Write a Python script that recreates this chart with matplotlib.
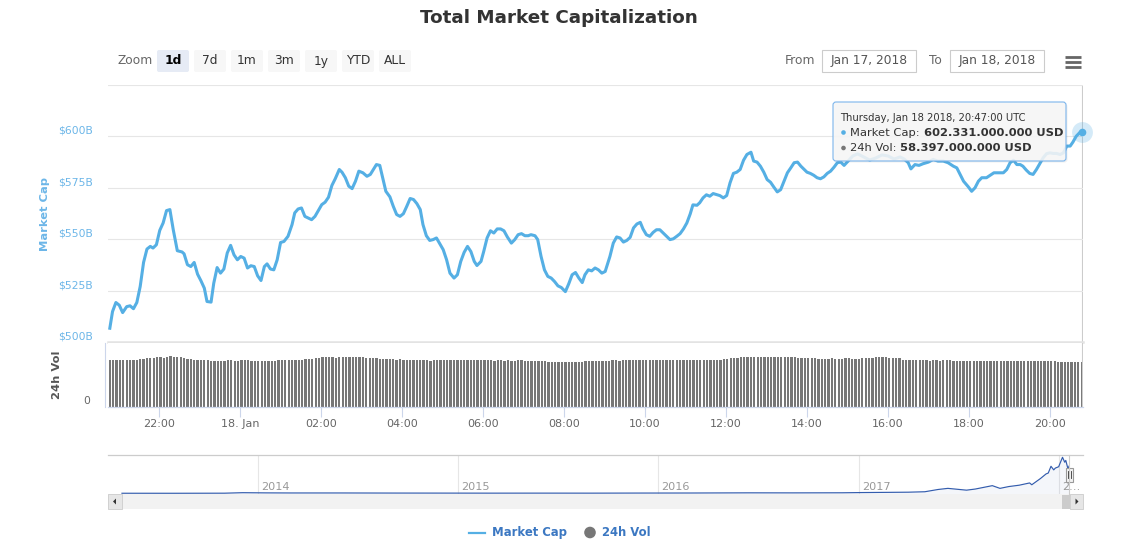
import numpy as np
import pandas as pd
import matplotlib
matplotlib.use('Agg')
import matplotlib.pyplot as plt
import matplotlib.dates as mdates
import matplotlib.transforms as mtransforms
from matplotlib.patches import Rectangle, FancyBboxPatch, Polygon, Circle

plt.rcParams['font.family'] = ['DejaVu Sans']

# ---------------- data ----------------
title = 'Total Market Capitalization'
start_time = '2018-01-17 20:47'

# market cap (billions USD), minutes after start_time
mc_minutes = [0, 4, 9, 14, 19, 25, 30, 35, 40, 45, 50, 55, 60, 64, 69, 74, 79, 84, 89, 94,
              100, 107, 110, 115, 120, 125, 130, 135, 140, 144, 150, 154, 159, 164, 169, 174, 179, 184, 189, 194,
              199, 204, 209, 214, 219, 224, 229, 233, 238, 243, 248, 253, 258, 264, 270, 274, 279, 284, 289, 294,
              299, 304, 309, 314, 319, 324, 329, 334, 340, 344, 349, 354, 359, 364, 369,
              375, 381, 386, 391, 395, 400, 405, 409, 415, 420, 425, 430, 435, 440, 445, 450, 455, 460, 464, 469,
              474, 479, 484, 489, 494, 499, 504, 510, 515, 520, 525, 530, 535, 540, 544, 550, 554, 559, 564, 569,
              574, 579, 584, 589, 595, 600, 605, 610, 615, 620, 624, 630, 634, 639, 644, 649, 654, 659, 664, 669,
              675, 680, 685, 690, 695, 700, 704, 709, 714, 719, 724, 729, 734,
              741, 746, 751, 756, 761, 766, 771, 776, 781, 786, 790, 795, 800, 805, 810, 815, 820, 825, 830, 835,
              840, 845, 850, 855, 860, 864, 870, 874, 879, 884, 889, 894, 899, 904, 909, 914, 919, 924, 929, 934,
              939, 944, 950, 954, 959, 964, 969, 974, 979, 984, 989, 994, 999, 1004, 1009, 1014, 1019, 1024, 1029, 1033,
              1038, 1043, 1048, 1053, 1058, 1063, 1068, 1073, 1078, 1083, 1088,
              1094, 1101, 1108, 1117, 1126, 1135, 1144, 1153, 1162, 1171, 1177,
              1183, 1187, 1193, 1199, 1205, 1213, 1220, 1227, 1235, 1242, 1250, 1255, 1260, 1265, 1272, 1277, 1282, 1287, 1292, 1299,
              1304, 1310, 1316, 1324, 1329, 1334, 1339, 1344, 1349, 1353, 1358, 1363, 1368, 1373, 1378, 1383, 1388, 1393, 1398, 1403,
              1408, 1413, 1418, 1423, 1427, 1432, 1437, 1440]
mc_values = [506.7, 514.8, 519.2, 517.9, 514.3, 517.2, 517.6, 516.2, 519.2, 527.0, 538.7, 545.2, 546.5, 545.7, 547.3, 554.3, 557.9, 563.9, 564.4, 554.6,
             544.4, 543.8, 542.9, 537.6, 536.7, 538.7, 533.0, 529.8, 526.2, 519.7, 519.4, 528.6, 536.2, 533.5, 535.5, 543.3, 547.0, 542.4, 540.0, 541.6,
             540.8, 536.0, 537.1, 536.7, 532.2, 529.9, 536.7, 538.0, 535.5, 535.1, 540.0, 548.4, 548.9, 551.4, 557.1, 562.8, 564.7, 565.2, 561.1, 560.3,
             559.5, 561.1, 564.0, 566.8, 568.0, 570.4, 576.1, 579.4, 583.9, 582.6, 579.9, 575.8, 574.6, 578.2, 583.1,
             582.3, 580.6, 581.5, 584.2, 586.3, 585.9, 579.0, 573.3, 570.6, 566.0, 562.0, 561.1, 562.4, 566.0, 569.8, 569.3, 567.3, 564.4, 557.1, 551.7,
             549.4, 549.8, 550.6, 547.8, 544.9, 540.0, 533.5, 531.1, 532.7, 539.2, 543.6, 546.5, 544.0, 539.2, 537.2, 539.2, 544.0, 550.6, 554.1, 553.0,
             555.0, 555.0, 554.1, 551.1, 548.1, 549.8, 552.2, 552.7, 551.7, 551.7, 552.2, 551.7, 549.8, 541.6, 535.1, 531.9, 531.1, 529.4, 527.3, 526.5,
             524.5, 528.3, 532.7, 533.8, 531.1, 528.9, 532.7, 535.1, 534.6, 536.0, 535.1, 533.5, 534.3,
             541.6, 548.1, 551.1, 550.6, 548.6, 549.4, 550.9, 555.5, 557.4, 558.2, 555.0, 552.2, 551.4, 553.3, 554.6, 554.6, 553.0, 551.4, 549.8, 550.2,
             551.4, 552.7, 555.0, 557.9, 562.3, 566.7, 566.5, 567.7, 570.1, 571.6, 570.9, 572.2, 571.7, 571.2, 570.1, 571.2, 577.4, 582.0, 582.6, 583.9,
             588.4, 591.2, 592.3, 588.0, 587.5, 585.5, 582.6, 579.0, 577.7, 575.3, 573.0, 574.1, 578.2, 582.3, 584.7, 587.2, 587.5, 585.5, 583.9, 582.6,
             582.0, 581.1, 579.9, 579.4, 580.3, 582.0, 583.1, 585.0, 587.2, 587.5, 585.9,
             588.0, 590.5, 591.5, 590.0, 588.5, 589.5, 591.0, 590.5, 589.0, 590.0, 589.0,
             587.2, 584.2, 586.3, 585.9, 586.7, 587.5, 588.8, 588.0, 588.0, 587.2, 585.5, 584.7, 581.5, 578.2, 575.5, 573.3, 575.0, 578.2, 579.9, 579.9,
             581.0, 582.3, 582.3, 582.3, 583.9, 587.2, 588.4, 586.3, 586.3, 585.5, 583.6, 582.0, 581.5, 583.9, 586.8, 589.6, 591.6, 592.0, 591.7, 591.7,
             591.2, 592.0, 595.3, 595.3, 597.2, 600.1, 601.8, 602.331]

# 24h volume (billions USD), one bar every 5 minutes from start_time
vol_step_minutes = 5
vol_values = [
    61.0, 60.6, 61.0, 61.0, 61.0, 61.0, 60.8, 61.0, 61.4, 61.8, 62.5, 63.0,
    63.6, 63.6, 64.2, 64.2, 63.8, 64.6, 65.5, 64.6, 64.6, 64.2, 63.0, 62.5,
    62.0, 61.4, 61.0, 60.6, 60.4, 60.4, 60.0, 60.0, 60.0, 59.8, 59.8, 60.4,
    60.4, 60.0, 60.0, 60.4, 60.4, 60.4, 60.0, 60.0, 60.0, 60.0, 59.8, 59.8,
    59.8, 60.0, 60.4, 60.8, 61.0, 61.0, 61.0, 60.6, 61.0, 61.4, 62.0, 62.5,
    62.5, 63.0, 63.6, 64.2, 64.2, 64.6, 64.2, 63.6, 64.2, 64.6, 64.6, 64.2,
    64.2, 64.6, 64.6, 64.2, 63.6, 63.6, 63.0, 63.0, 62.5, 62.5, 62.5, 62.0,
    61.8, 61.4, 61.8, 61.4, 61.0, 61.0, 61.4, 60.8, 61.0, 60.4, 60.4, 60.0,
    60.4, 60.4, 60.4, 60.8, 60.8, 60.4, 60.4, 60.4, 60.8, 60.8, 60.4, 60.4,
    60.4, 60.8, 60.8, 60.8, 60.4, 60.4, 60.0, 60.4, 60.4, 60.0, 60.4, 60.0,
    60.0, 60.4, 60.4, 60.0, 60.0, 59.8, 59.8, 60.0, 59.6, 59.4, 59.0, 58.8,
    58.6, 58.4, 58.6, 58.4, 58.6, 58.8, 59.0, 59.0, 59.0, 59.4, 59.4, 59.6,
    59.6, 59.6, 59.8, 60.0, 60.0, 60.4, 60.4, 60.0, 60.4, 60.4, 60.6, 60.4,
    60.4, 60.8, 60.6, 60.4, 60.4, 60.8, 60.8, 60.8, 60.4, 60.4, 60.8, 60.8,
    60.8, 61.0, 60.8, 60.8, 60.8, 61.0, 60.8, 60.8, 61.0, 60.8, 60.8, 61.0,
    61.0, 61.4, 61.8, 62.5, 63.0, 63.6, 63.6, 64.2, 64.2, 64.6, 64.2, 64.6,
    64.6, 64.2, 64.2, 64.6, 64.6, 64.2, 64.2, 64.2, 64.6, 64.6, 64.2, 64.2,
    63.6, 63.6, 63.6, 63.0, 63.0, 63.0, 62.5, 62.5, 62.5, 62.5, 63.0, 62.5,
    62.5, 62.5, 63.0, 63.0, 62.5, 62.5, 62.5, 63.0, 63.6, 63.6, 63.6, 64.2,
    64.2, 64.2, 64.2, 63.6, 63.6, 63.6, 63.6, 61.0, 60.6, 60.4, 60.4, 60.4,
    60.4, 60.4, 60.4, 60.0, 60.4, 60.4, 60.0, 60.4, 60.4, 60.4, 60.0, 60.0,
    59.6, 59.4, 59.4, 59.4, 59.6, 59.6, 60.0, 60.0, 60.0, 60.0, 60.0, 60.0,
    60.0, 60.0, 60.0, 60.0, 60.0, 60.0, 60.0, 59.8, 60.0, 60.0, 59.8, 59.8,
    59.6, 59.8, 59.4, 59.4, 59.4, 59.0, 59.0, 58.8, 58.6, 58.8, 58.4, 58.6,
    58.397]

# navigator: full history of market cap (billions USD)
nav_dates = ['2013-04-28', '2013-08-01', '2013-11-01', '2013-12-04', '2014-01-15', '2014-03-01', '2014-06-01',
             '2014-09-01', '2014-12-01', '2015-03-01', '2015-06-01', '2015-09-01', '2015-12-01', '2016-03-01',
             '2016-06-15', '2016-09-01', '2016-12-01', '2017-01-05', '2017-03-01', '2017-04-01', '2017-05-01',
             '2017-05-25', '2017-06-12', '2017-07-16', '2017-08-01', '2017-09-01', '2017-09-15', '2017-10-01',
             '2017-10-20', '2017-11-08', '2017-11-12', '2017-11-28', '2017-12-08', '2017-12-12', '2017-12-17',
             '2017-12-22', '2017-12-25', '2017-12-31', '2018-01-07', '2018-01-11', '2018-01-13', '2018-01-17',
             '2018-01-18 20:47']
nav_values = [1.6, 1.2, 3, 14, 10, 8, 8, 6, 5, 4, 4.5, 4, 6, 7, 11, 10, 12, 17, 22, 25, 35,
              85, 110, 70, 95, 170, 110, 150, 180, 230, 190, 330, 430, 450, 600,
              520, 560, 590, 800, 690, 730, 540, 602]
nav_years = [2014, 2015, 2016, 2017, 2018]

price_ticks = [500, 525, 550, 575, 600, 625]
zoom_buttons = ['1d', '7d', '1m', '3m', '1y', 'YTD', 'ALL']
from_date, to_date = 'Jan 17, 2018', 'Jan 18, 2018'
tooltip_header = 'Thursday, Jan 18 2018, 20:47:00 UTC'

# ---------------- style ----------------
BLUE = '#55afe4'
LBL_BLUE = '#6cb6e8'
GRID = '#e6e6e6'
AXIS = '#ccd6eb'
W, H = 1132, 542

assert len(mc_minutes) == len(mc_values)
assert len(nav_dates) == len(nav_values)

fig = plt.figure(figsize=(W / 100, H / 100), dpi=100)
fig.patch.set_facecolor('white')


def rect(l, t, r, b):
    return [l / W, 1 - b / H, (r - l) / W, (b - t) / H]


t0 = pd.Timestamp(start_time)
mc_t = t0 + pd.to_timedelta(mc_minutes, unit='min')
vol_t = t0 + pd.to_timedelta(np.arange(len(vol_values)) * vol_step_minutes, unit='min')
x_lo = t0 - pd.Timedelta(minutes=2.7)
x_hi = t0 + pd.Timedelta(minutes=1442)

# ---------- price panel ----------
ax_p = fig.add_axes(rect(108, 85, 1083, 342))
ax_p.plot(mc_t, mc_values, color=BLUE, lw=2.2, solid_joinstyle='round', zorder=3)
ax_p.set_ylim(price_ticks[0], price_ticks[-1])
ax_p.set_xlim(x_lo, x_hi)
ax_p.set_yticks(price_ticks)
ax_p.grid(axis='y', color=GRID, lw=0.8)
ax_p.tick_params(left=False, bottom=False, labelleft=False, labelbottom=False)
for s in ['top', 'left', 'right']:
    ax_p.spines[s].set_visible(False)
ax_p.spines['bottom'].set_color('#e3e3e3')
ax_p.spines['bottom'].set_linewidth(1.8)
tr = mtransforms.offset_copy(mtransforms.blended_transform_factory(ax_p.transAxes, ax_p.transData),
                             fig=fig, x=0, y=5.5, units='dots')
for v in price_ticks[:-1]:
    ax_p.text(-0.0152, v, f'${v}B', transform=tr, ha='right', va='center',
              fontsize=7.75, color=LBL_BLUE, clip_on=False)
# crosshair + hovered point
ax_p.axvline(mc_t[-1], color='#cccccc', lw=0.8, zorder=1)
ax_p.plot([mc_t[-1]], [mc_values[-1]], 'o', ms=15, color=BLUE, alpha=0.25, mec='none', clip_on=False, zorder=4)
ax_p.plot([mc_t[-1]], [mc_values[-1]], 'o', ms=5.5, color=BLUE, mec='none', clip_on=False, zorder=5)

# ---------- volume panel ----------
ax_v = fig.add_axes(rect(108, 343, 1083, 407))
bar_w = 0.68 * vol_step_minutes / 1440.0
ax_v.bar(vol_t, vol_values, width=bar_w, color='#777777', align='center', zorder=2)
ax_v.set_ylim(0, 83)
ax_v.set_xlim(x_lo, x_hi)
ax_v.axvline(mc_t[-1], color='#cccccc', lw=0.8, zorder=3)
for s in ['top', 'right']:
    ax_v.spines[s].set_visible(False)
ax_v.spines['left'].set_color(AXIS)
ax_v.spines['left'].set_linewidth(0.8)
ax_v.spines['left'].set_position(('outward', 2))
ax_v.spines['bottom'].set_color(AXIS)
ax_v.spines['bottom'].set_linewidth(0.9)
ax_v.set_yticks([])
ax_v.xaxis.set_major_locator(mdates.HourLocator(byhour=range(0, 24, 2)))


def tfmt(x, pos):
    d = mdates.num2date(x)
    if d.hour == 0 and d.minute == 0:
        return f'{d.day}. {d.strftime("%b")}'
    return d.strftime('%H:%M')


ax_v.xaxis.set_major_formatter(plt.FuncFormatter(tfmt))
ax_v.tick_params(axis='x', direction='out', length=7, width=0.8, color=AXIS,
                 labelsize=8, labelcolor='#666666', pad=1.5)
trv = mtransforms.offset_copy(mtransforms.blended_transform_factory(ax_v.transAxes, ax_v.transData),
                              fig=fig, x=0, y=6, units='dots')
ax_v.text(-0.0185, 0, '0', transform=trv, ha='right', va='center', fontsize=7.75,
          color='#666666', clip_on=False)

# ---------- navigator ----------
ax_n = fig.add_axes(rect(108, 455, 1083, 494))
nav_t = pd.to_datetime(nav_dates, format='ISO8601')
ax_n.fill_between(nav_t, nav_values, -15, color='#335cad', alpha=0.05, lw=0)
ax_n.plot(nav_t, nav_values, color='#335cad', lw=0.85)
ax_n.set_xlim(nav_t[0] - pd.Timedelta(days=25.5), nav_t[-1] + pd.Timedelta(days=25.5))
ax_n.set_ylim(-15, 850)
ax_n.set_xticks([])
ax_n.set_yticks([])
for s in ['left', 'right', 'bottom']:
    ax_n.spines[s].set_visible(False)
ax_n.spines['top'].set_color('#cccccc')
ax_n.spines['top'].set_linewidth(0.9)
trn = mtransforms.offset_copy(mtransforms.blended_transform_factory(ax_n.transData, ax_n.transAxes),
                              fig=fig, x=3, y=0, units='dots')
for yr in nav_years:
    d = pd.Timestamp(f'{yr}-01-01')
    ax_n.axvline(d, color=GRID, lw=0.8, zorder=0)
    lab = str(yr) if yr < nav_years[-1] else '2…'
    ax_n.text(d, 0.18, lab, transform=trn, ha='left', va='center', fontsize=8.1, color='#999999')

# ---------- overlay (UI in pixel coords) ----------
ov = fig.add_axes([0, 0, 1, 1], zorder=10)
ov.set_xlim(0, W)
ov.set_ylim(H, 0)
ov.axis('off')
ov.patch.set_alpha(0)

ov.text(559, 18, title, ha='center', va='center', fontsize=13.2, weight='bold', color='#333333')

# zoom buttons
ov.text(135, 61, 'Zoom', ha='center', va='center', fontsize=8.8, color='#666666')
bx = [157, 194, 231, 268, 305, 342, 379]
for i, (x, lab) in enumerate(zip(bx, zoom_buttons)):
    sel = i == 0
    ov.add_patch(FancyBboxPatch((x, 50), 32, 22, boxstyle='round,pad=0,rounding_size=2',
                                fc='#e6ebf5' if sel else '#f7f7f7', ec='none'))
    ov.text(x + 16, 61, lab, ha='center', va='center', fontsize=8.8,
            color='#000000' if sel else '#333333', weight='bold' if sel else 'normal')

# date range inputs
ov.text(800, 60, 'From', ha='center', va='center', fontsize=8.8, color='#666666')
ov.add_patch(Rectangle((822, 50), 94, 22, fc='white', ec='#cccccc', lw=0.8))
ov.text(869, 60.5, from_date, ha='center', va='center', fontsize=8.8, color='#555555')
ov.text(935.5, 60, 'To', ha='center', va='center', fontsize=8.8, color='#666666')
ov.add_patch(Rectangle((950, 50), 94, 22, fc='white', ec='#cccccc', lw=0.8))
ov.text(997, 60.5, to_date, ha='center', va='center', fontsize=8.8, color='#555555')
for yy in [56.5, 61.5, 66.5]:
    ov.plot([1064.5, 1081], [yy, yy], color='#666666', lw=2.0, solid_capstyle='butt')

# axis titles
ov.text(45, 214, 'Market Cap', rotation=90, ha='center', va='center', fontsize=8.25,
        weight='bold', color=LBL_BLUE)
ov.text(57, 375, '24h Vol', rotation=90, ha='center', va='center', fontsize=8.25,
        weight='bold', color='#555555')

# tooltip
ov.add_patch(FancyBboxPatch((834.5, 103.5), 233, 59, boxstyle='round,pad=0,rounding_size=3',
                            fc=(0, 0, 0, 0.06), ec='none'))
ov.add_patch(FancyBboxPatch((833, 102), 233, 59, boxstyle='round,pad=0,rounding_size=3',
                            fc=(0.97, 0.97, 0.97, 0.88), ec='#7cb5ec', lw=0.8))
ov.text(840, 118, tooltip_header, ha='left', va='center', fontsize=7.2, color='#333333')
ov.add_patch(Circle((843.5, 132.5), 2.3, fc=BLUE, ec='none'))
t1 = ov.text(850.5, 132.5, 'Market Cap:', ha='left', va='center', fontsize=8.25, color='#333333')
ov.annotate(f'{mc_values[-1] * 1e9:,.0f}'.replace(',', '.') + ' USD', xy=(1, 0.5), xycoords=t1,
            xytext=(2.5, 0), textcoords='offset points', ha='left', va='center',
            fontsize=8.25, weight='bold', color='#333333')
ov.add_patch(Circle((843.5, 148), 2.3, fc='#777777', ec='none'))
t2 = ov.text(850.5, 148, '24h Vol:', ha='left', va='center', fontsize=8.25, color='#333333')
ov.annotate(f'{vol_values[-1] * 1e9:,.0f}'.replace(',', '.') + ' USD', xy=(1, 0.5), xycoords=t2,
            xytext=(2.5, 0), textcoords='offset points', ha='left', va='center',
            fontsize=8.25, weight='bold', color='#333333')

# navigator handle
ov.plot([1069.3, 1069.3], [455, 494], color='#cccccc', lw=0.8)
ov.add_patch(Rectangle((1065.5, 467.5), 7, 14, fc='#f2f2f2', ec='#999999', lw=0.8))
for xx in [1068, 1070.5]:
    ov.plot([xx, xx], [471, 478], color='#333333', lw=0.6)

# scrollbar
ov.add_patch(Rectangle((108, 494), 975, 15, fc='#f2f2f2', ec='none'))
ov.add_patch(Rectangle((108, 494), 14, 15, fc='#e6e6e6', ec='#cccccc', lw=0.6))
ov.add_patch(Polygon([(113, 501.5), (116, 498.5), (116, 504.5)], fc='#333333', ec='none'))
ov.add_patch(Rectangle((1062, 494.5), 7.5, 14, fc='#cccccc', ec='none'))
ov.add_patch(Rectangle((1069.5, 494), 13.5, 15, fc='#e6e6e6', ec='#cccccc', lw=0.6))
ov.add_patch(Polygon([(1078.5, 501.5), (1075.5, 498.5), (1075.5, 504.5)], fc='#333333', ec='none'))

# legend
ov.plot([469, 485], [532.5, 532.5], color=BLUE, lw=1.6)
ov.text(492, 532.5, 'Market Cap', ha='left', va='center', fontsize=8.35, weight='bold', color='#3c78c2')
ov.add_patch(Circle((590, 532.5), 5.8, fc='#777777', ec='none'))
ov.text(602, 532.5, '24h Vol', ha='left', va='center', fontsize=8.35, weight='bold', color='#3c78c2')

fig.savefig('out.png', dpi=100, facecolor='white')
